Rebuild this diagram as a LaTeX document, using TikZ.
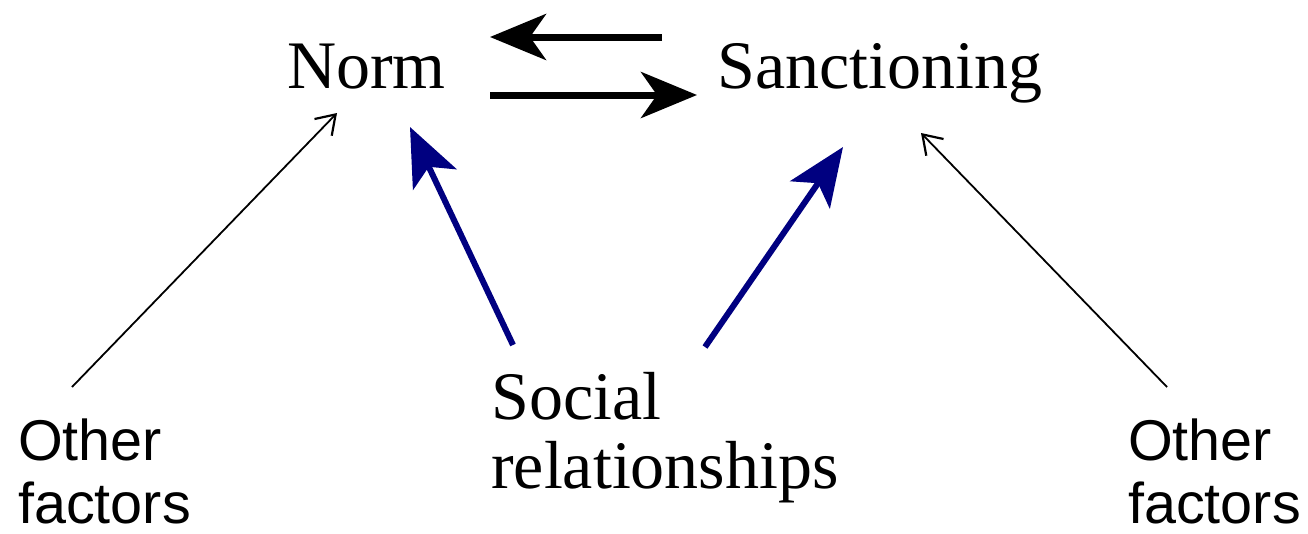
\documentclass[tikz,border=0pt]{standalone}
\usepackage{fontspec}
\setmainfont{Liberation Serif}
\newfontfamily\labelsans{Liberation Sans}
\usetikzlibrary{arrows.meta}
\definecolor{linkblue}{RGB}{0,0,128}
\tikzset{
  concept/.style={inner sep=0pt, anchor=base west, align=left,
    font=\fontsize{68}{69}\selectfont},
  factor/.style={inner sep=0pt, anchor=base west, align=left,
    font=\labelsans\fontsize{57.5}{63}\selectfont},
  mutual/.style={line width=7pt, -{Stealth[length=56pt, width=46pt, inset=16pt]}},
  social/.style={line width=6pt, linkblue, -{Stealth[length=58pt, width=48pt, inset=14pt]}},
  minor/.style={line width=1.8pt, -{Straight Barb[length=18pt, width=24pt, line width=2.2pt]}}
}
\begin{document}
\begin{tikzpicture}[x=1pt, y=-1pt]
  \useasboundingbox (0,0) rectangle (1308,533);
  % concepts
  \node[concept] (norm) at (287,88) {Norm};
  \node[concept] (sanc) at (717,88) {Sanctioning};
  \node[concept] (soc) at (491,488) {Social\\relationships};
  \node[factor] (ofl) at (18,523) {Other\\factors};
  \node[factor] (ofr) at (1128,523) {Other\\factors};
  % arrow end points
  \coordinate (nr1) at (662,37);  \coordinate (nl1) at (490,37);
  \coordinate (nl2) at (490,95);  \coordinate (nr2) at (697,95);
  \coordinate (sl) at (513,345);  \coordinate (tl) at (410,127);
  \coordinate (sr) at (705,347);  \coordinate (tr) at (843,147);
  \coordinate (fl) at (72,387);   \coordinate (gl) at (337,113);
  \coordinate (fr) at (1167,387); \coordinate (gr) at (921,133);
  % norm <-> sanctioning
  \draw[mutual] (nr1) -- (nl1);
  \draw[mutual] (nl2) -- (nr2);
  % social relationships
  \draw[social] (sl) -- (tl);
  \draw[social] (sr) -- (tr);
  % other factors
  \draw[minor] (fl) -- (gl);
  \draw[minor] (fr) -- (gr);
\end{tikzpicture}
\end{document}
